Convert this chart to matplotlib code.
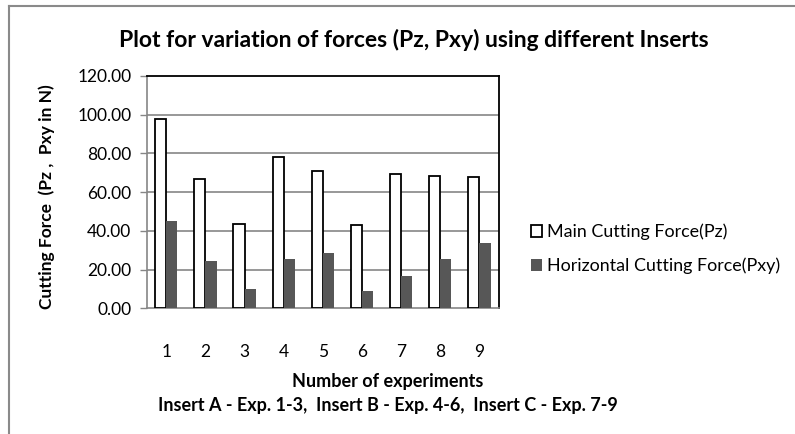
import matplotlib
matplotlib.use("Agg")
import matplotlib.pyplot as plt
from matplotlib.lines import Line2D
import numpy as np

experiments = ["1", "2", "3", "4", "5", "6", "7", "8", "9"]
pz = [97.8, 66.9, 43.5, 78.3, 70.8, 42.9, 69.2, 68.3, 67.7]
pxy = [45.3, 24.4, 9.8, 25.3, 28.4, 8.9, 16.7, 25.3, 33.7]
yticks = [0, 20, 40, 60, 80, 100, 120]

plt.rcParams['font.family'] = ['Lato', 'DejaVu Sans']

W, H = 795, 434
fig = plt.figure(figsize=(W / 100, H / 100), dpi=100)
ax = fig.add_axes([146.7 / W, 1 - 308.3 / H, 352.3 / W, 232.3 / H])

x = np.arange(len(experiments))
bw = 0.285
b1 = ax.bar(x - bw / 2, pz, bw, color="white", edgecolor="black", linewidth=1.3,
            label="Main Cutting Force(Pz)", zorder=3)
b2 = ax.bar(x + bw / 2, pxy, bw, color="#575757", edgecolor="none",
            label="Horizontal Cutting Force(Pxy)", zorder=3)

ax.set_xlim(-0.5, len(experiments) - 0.5)
ax.set_ylim(0, 120)
ax.set_yticks(yticks)
ax.set_yticklabels([f"{v:.2f}" for v in yticks], fontsize=12.5)
ax.set_xticks(x)
ax.set_xticklabels(experiments, fontsize=12.5)
ax.tick_params(axis="x", length=0, pad=26)
ax.tick_params(axis="y", length=5, width=1, color="#868686", pad=6)
for v in yticks[1:-1]:
    ax.axhline(v, color="#868686", linewidth=1.2, zorder=1)
ax.spines["left"].set_color("#868686")
ax.spines["bottom"].set_color("#868686")
ax.spines["left"].set_linewidth(1.2)
ax.spines["bottom"].set_linewidth(1.2)
ax.spines["top"].set_color("black")
ax.spines["right"].set_color("black")
ax.spines["top"].set_linewidth(1.3)
ax.spines["right"].set_linewidth(1.3)

fig.text(414 / W, 1 - 40 / H, "Plot for variation of forces (Pz, Pxy) using different Inserts",
         ha="center", va="center", fontsize=16.5, fontweight="bold")
fig.text(47 / W, 1 - 197 / H, "Cutting Force  (Pz ,  Pxy in N)", rotation=90,
         ha="center", va="center", fontsize=12.5, fontweight="bold")
fig.text(388 / W, 1 - 381 / H, "Number of experiments", ha="center", va="center",
         fontsize=13, fontweight="bold")
fig.text(388 / W, 1 - 405 / H, "Insert A - Exp. 1-3,  Insert B - Exp. 4-6,  Insert C - Exp. 7-9",
         ha="center", va="center", fontsize=13, fontweight="bold")

ax.legend(handles=[b1, b2], loc="center left", bbox_to_anchor=(531 / W, 1 - 249 / H),
          bbox_transform=fig.transFigure, frameon=False, fontsize=12.9, borderpad=0,
          borderaxespad=0, handlelength=0.62, handleheight=0.62, handletextpad=0.3,
          labelspacing=0.95)

# outer chart border (top and left only)
fig.add_artist(Line2D([9 / W, 1], [1 - 6 / H, 1 - 6 / H], transform=fig.transFigure,
                      color="#8a8a8a", linewidth=1.5))
fig.add_artist(Line2D([9 / W, 9 / W], [0, 1 - 6 / H], transform=fig.transFigure,
                      color="#8a8a8a", linewidth=1.5))

fig.savefig("out.png", dpi=100)
